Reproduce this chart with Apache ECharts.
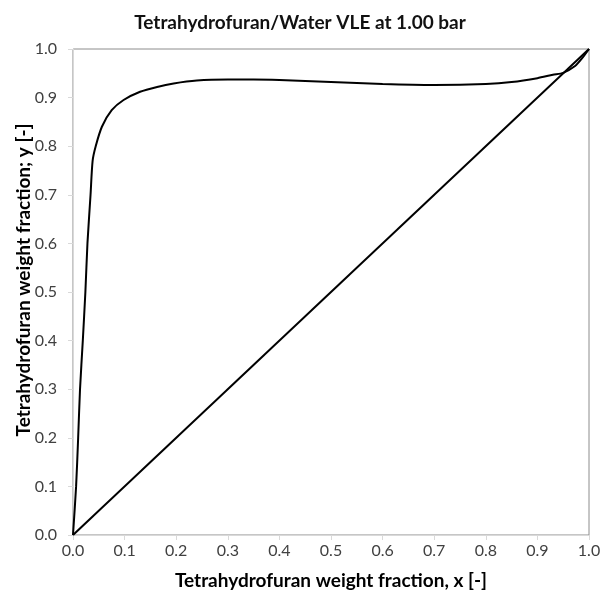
<!DOCTYPE html>
<html>
<head>
<meta charset="utf-8">
<script src="https://cdn.jsdelivr.net/npm/echarts@6/dist/echarts.min.js"></script>
<style>
html,body{margin:0;padding:0;background:#fff;}
#chart{width:600px;height:592px;}
</style>
</head>
<body>
<div id="chart"></div>
<script>
// Vapour-liquid equilibrium curve (liquid x, vapour y), THF weight fraction
const vleX = [0, 0.006, 0.010, 0.0136, 0.019, 0.024, 0.028, 0.034, 0.038, 0.044, 0.056, 0.075, 0.098, 0.13, 0.163, 0.195, 0.24, 0.30, 0.35, 0.40, 0.50, 0.60, 0.70, 0.80, 0.85, 0.90, 0.93, 0.95, 0.973, 0.986, 1.0];
const vleY = [0, 0.10, 0.20, 0.30, 0.40, 0.50, 0.60, 0.70, 0.77, 0.80, 0.84, 0.874, 0.895, 0.912, 0.922, 0.929, 0.935, 0.937, 0.937, 0.936, 0.932, 0.928, 0.926, 0.928, 0.932, 0.940, 0.947, 0.951, 0.965, 0.980, 1.0];
// y = x reference diagonal
const diagX = [0, 1];
const diagY = [0, 1];
const titleText = 'Tetrahydrofuran/Water VLE at 1.00 bar';
const xName = 'Tetrahydrofuran weight fraction, x [-]';
const yName = 'Tetrahydrofuran weight fraction; y [-]';

const font = 'Lato, "Open Sans", sans-serif';
const chart = echarts.init(document.getElementById('chart'), null, {renderer: 'canvas'});
const pairs = (xs, ys) => xs.map((v, i) => [v, ys[i]]);
const axisCommon = {
  min: 0, max: 1, interval: 0.1,
  axisLine: {show: true, lineStyle: {color: '#d9d9d9', width: 1}},
  axisTick: {show: true, inside: false, length: 5, lineStyle: {color: '#d9d9d9'}},
  splitLine: {show: false},
  axisLabel: {color: '#404040', fontSize: 16, fontFamily: font, formatter: v => v.toFixed(1)},
  nameLocation: 'middle',
  nameMoveOverlap: false,
  nameTextStyle: {color: '#000', fontSize: 19, fontWeight: 'bold', fontFamily: font}
};
chart.setOption({
  animation: false,
  backgroundColor: '#fff',
  title: {
    text: titleText, left: 'center', top: 8,
    textStyle: {color: '#111', fontSize: 19, fontWeight: 'bold', fontFamily: font}
  },
  grid: {left: 73, right: 11, top: 49, bottom: 57, show: true, borderColor: '#8c8c8c', borderWidth: 1,
         containLabel: false, outerBoundsMode: 'none'},
  xAxis: Object.assign({}, axisCommon, {
    type: 'value', name: xName, nameGap: 36,
    axisLabel: Object.assign({}, axisCommon.axisLabel, {margin: 8})
  }),
  yAxis: Object.assign({}, axisCommon, {
    type: 'value', name: yName, nameGap: 40,
    nameTextStyle: Object.assign({}, axisCommon.nameTextStyle, {padding: [0, 0, 0, 24]}),
    axisLabel: Object.assign({}, axisCommon.axisLabel, {margin: 16})
  }),
  series: [
    {type: 'line', data: pairs(vleX, vleY), showSymbol: false, smooth: 0.25,
     lineStyle: {color: '#000', width: 2}},
    {type: 'line', data: pairs(diagX, diagY), showSymbol: false,
     lineStyle: {color: '#000', width: 2}}
  ]
});
</script>
</body>
</html>
